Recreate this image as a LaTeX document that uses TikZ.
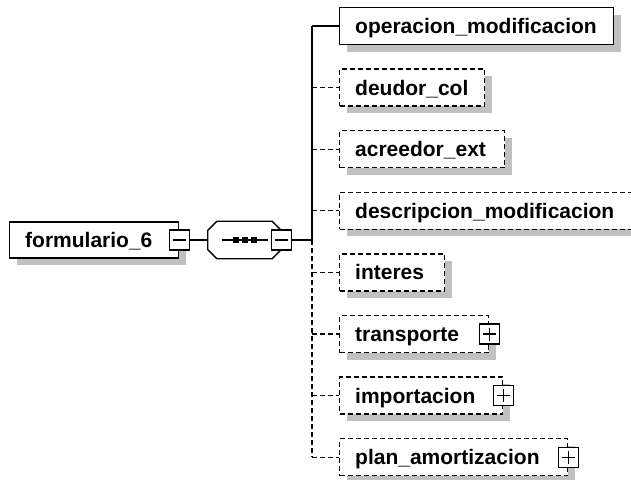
\documentclass[tikz,border=0pt]{standalone}
\usepackage{fontspec}
\setmainfont{Liberation Sans}
\usetikzlibrary{shadows}
\definecolor{shgray}{RGB}{192,192,192}
\tikzset{
  base/.style={line width=1.3pt, draw=black},
  elem/.style={base, fill=white, minimum height=37pt, inner sep=0pt, anchor=west,
    drop shadow={shadow xshift=7pt, shadow yshift=-7pt, fill=shgray, opacity=1}},
  optelem/.style={elem, dash pattern=on 5pt off 3pt},
  lbl/.style={font=\fontsize{21pt}{25pt}\selectfont\bfseries, inner sep=0pt, anchor=base west},
  pmbox/.style={base, fill=white, minimum size=20pt, inner sep=0pt},
  minusbox/.style={pmbox, path picture={
      \draw[line width=1.6pt] ([xshift=3.5pt]path picture bounding box.west) -- ([xshift=-3.5pt]path picture bounding box.east);}},
  plusbox/.style={pmbox, path picture={
      \draw[line width=1.4pt] ([xshift=3.5pt]path picture bounding box.west) -- ([xshift=-3.5pt]path picture bounding box.east);
      \draw[line width=1.4pt] ([yshift=-3.5pt]path picture bounding box.north) -- ([yshift=3.5pt]path picture bounding box.south);}},
  conn/.style={base},
  optconn/.style={base, dash pattern=on 5pt off 3pt},
  seqframe/.style={minimum width=73pt, minimum height=37pt, inner sep=0pt},
}
\begin{document}
\begin{tikzpicture}[x=1pt, y=-1pt]
\path[use as bounding box] (0,0) rectangle (631,479);
\clip (0,0) rectangle (631,479);

% root element
\node[elem, minimum width=169pt, minimum height=36pt] (root) at (9,240) {};
\node[lbl] (roott) at ([xshift=16pt, yshift=-7.5pt]root.west) {formulario\_6};
\node[minusbox] (rootm) at (root.east) {};

% sequence compositor (octagon)
\node[seqframe] (seq) at (244.5,240) {};
\begin{scope}[shift={(7,7)}]
\fill[shgray] ([xshift=9pt]seq.north west) -- ([xshift=-9pt]seq.north east) -- ([yshift=-9pt]seq.north east)
  -- ([yshift=9pt]seq.south east) -- ([xshift=-9pt]seq.south east) -- ([xshift=9pt]seq.south west)
  -- ([yshift=9pt]seq.south west) -- ([yshift=-9pt]seq.north west) -- cycle;
\end{scope}
\draw[base, fill=white] ([xshift=9pt]seq.north west) -- ([xshift=-9pt]seq.north east) -- ([yshift=-9pt]seq.north east)
  -- ([yshift=9pt]seq.south east) -- ([xshift=-9pt]seq.south east) -- ([xshift=9pt]seq.south west)
  -- ([yshift=9pt]seq.south west) -- ([yshift=-9pt]seq.north west) -- cycle;
\draw[line width=1.3pt] ([xshift=-23pt]seq.center) -- ([xshift=23pt]seq.center);
\foreach \dx in {-9,0,9} {
  \fill ([xshift=\dx pt]seq.center) ++(-3,-3) rectangle ++(6,6);
}
\node[minusbox] (seqm) at (seq.east) {};
\draw[conn] (rootm.east) -- (seq.west);

% junction
\coordinate (jn) at (312,240);
\draw[conn] (seqm.east) -- (jn);

% children
\node[elem, minimum width=274pt] (b1) at (339,26) {};
\node[lbl] (t1) at ([xshift=16pt, yshift=-7.5pt]b1.west) {operacion\_modificacion};

\node[optelem, minimum width=145pt] (b2) at (339,87.6) {};
\node[lbl] (t2) at ([xshift=16pt, yshift=-7.5pt]b2.west) {deudor\_col};

\node[optelem, minimum width=165pt] (b3) at (339,149.2) {};
\node[lbl] (t3) at ([xshift=16pt, yshift=-7.5pt]b3.west) {acreedor\_ext};

\node[optelem, minimum width=300pt] (b4) at (339,210.8) {};
\node[lbl] (t4) at ([xshift=16pt, yshift=-7.5pt]b4.west) {descripcion\_modificacion};

\node[optelem, minimum width=105pt] (b5) at (339,272.4) {};
\node[lbl] (t5) at ([xshift=16pt, yshift=-7.5pt]b5.west) {interes};

\node[optelem, minimum width=149pt] (b6) at (339,334) {};
\node[lbl] (t6) at ([xshift=16pt, yshift=-7.5pt]b6.west) {transporte};
\node[plusbox] (p6) at (b6.east) {};

\node[optelem, minimum width=163pt] (b7) at (339,395.6) {};
\node[lbl] (t7) at ([xshift=16pt, yshift=-7.5pt]b7.west) {importacion};
\node[plusbox] (p7) at (b7.east) {};

\node[optelem, minimum width=228pt] (b8) at (339,457.2) {};
\node[lbl] (t8) at ([xshift=16pt, yshift=-7.5pt]b8.west) {plan\_amortizacion};
\node[plusbox] (p8) at (b8.east) {};

% trunk
\draw[conn] (jn |- b1.west) -- (jn);
\draw[optconn] (jn) -- (jn |- b8.west);

% connectors
\draw[conn] (jn |- b1.west) -- (b1.west);
\foreach \b in {b2,b3,b4,b5,b6,b7,b8} {
  \draw[optconn] (jn |- \b.west) -- (\b.west);
}
\end{tikzpicture}
\end{document}
